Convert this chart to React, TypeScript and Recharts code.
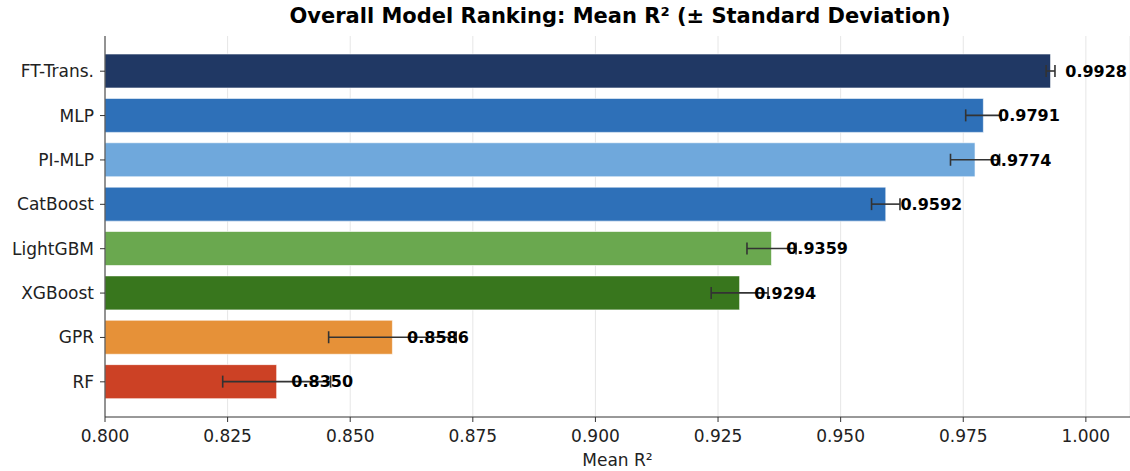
import React from "react";
import { Bar, BarChart, CartesianGrid, Cell, ErrorBar, LabelList, XAxis, YAxis } from "recharts";

const models = ["FT-Trans.", "MLP", "PI-MLP", "CatBoost", "LightGBM", "XGBoost", "GPR", "RF"];
const meanR2 = [0.9928, 0.9791, 0.9774, 0.9592, 0.9359, 0.9294, 0.8586, 0.835];
const stdR2 = [0.0009, 0.0036, 0.005, 0.0029, 0.005, 0.0058, 0.013, 0.011];
const colors = ["#203864", "#2e70b8", "#6fa8dc", "#2e70b8", "#6aa84f", "#38761d", "#e69138", "#cc4125"];
const xTicks = [0.8, 0.825, 0.85, 0.875, 0.9, 0.925, 0.95, 0.975, 1.0];

const data = models.map((model, i) => ({ model, mean: meanR2[i], std: stdR2[i] }));

const font = "'DejaVu Sans', sans-serif";

const ValueLabel = (props: any) => {
  const { x, y, width, height, value } = props;
  // offset of 0.003 in data units, derived from the bar's own pixel scale
  const perUnit = width / (value - 0.8);
  return (
    <text
      x={x + width + 0.003 * perUnit}
      y={y + height / 2}
      dy="0.36em"
      fontFamily={font}
      fontSize={16}
      fontWeight="bold"
      fill="#000"
    >
      {value.toFixed(4)}
    </text>
  );
};

export default function App() {
  return (
    <div style={{ position: "absolute", left: 0, top: 0, width: 1130, height: 471, background: "#fff", fontFamily: font }}>
      <div
        style={{
          position: "absolute",
          left: 105,
          width: 1030,
          top: 4,
          textAlign: "center",
          fontSize: 21,
          fontWeight: "bold",
          color: "#000",
        }}
      >
        Overall Model Ranking: Mean R² (± Standard Deviation)
      </div>
      <BarChart
        width={1130}
        height={471}
        data={data}
        layout="vertical"
        margin={{ top: 36, right: 0, left: 0, bottom: 0 }}
        barSize={34}
      >
        <CartesianGrid horizontal={false} stroke="#e6e6e6" strokeWidth={1} />
        <XAxis
          type="number"
          domain={[0.8, 1.009]}
          ticks={xTicks}
          allowDataOverflow
          tickFormatter={(v: number) => v.toFixed(3)}
          height={54}
          tickSize={5}
          tickMargin={8}
          stroke="#333"
          tick={{ fill: "#222", fontSize: 17, fontFamily: font }}
          label={{ value: "Mean R²", position: "insideBottom", offset: 5, fill: "#222", fontSize: 17, fontFamily: font }}
        />
        <XAxis xAxisId="top" orientation="top" type="number" domain={[0, 1]} height={0} tick={false} tickLine={false} stroke="#333" />
        <YAxis
          type="category"
          dataKey="model"
          width={105}
          padding={{ top: 13, bottom: 13 }}
          tickSize={5}
          tickMargin={6}
          stroke="#333"
          tick={{ fill: "#222", fontSize: 17, fontFamily: font }}
        />
        <Bar dataKey="mean" isAnimationActive={false} stroke="#ffffff" strokeOpacity={0.6} strokeWidth={1}>
          {data.map((d, i) => (
            <Cell key={d.model} fill={colors[i]} />
          ))}
          <LabelList dataKey="mean" content={ValueLabel} />
          <ErrorBar dataKey="std" direction="x" width={6} stroke="#333" strokeWidth={1.6} />
        </Bar>
      </BarChart>
    </div>
  );
}
